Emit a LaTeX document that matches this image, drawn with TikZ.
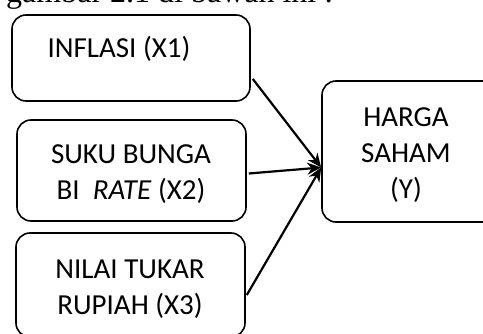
\documentclass[tikz,border=0pt]{standalone}
\usepackage{fontspec}
\setmainfont{Carlito}
\newfontfamily\seriffont{Liberation Serif}
\usetikzlibrary{arrows.meta}
\tikzset{
  box/.style={draw, line width=1.6pt, rounded corners=14pt, inner sep=0pt},
  lbl/.style={font=\fontsize{29}{36}\selectfont, align=center, inner sep=0pt},
  conn/.style={line width=2.2pt, -{Stealth[length=14pt,width=12pt]}}
}
\begin{document}
\begin{tikzpicture}[x=1pt,y=-1pt]
\useasboundingbox (0,0) rectangle (483,334);
\clip (0,0) rectangle (483,334);
\node[anchor=base west, inner sep=0pt, font=\seriffont\fontsize{32}{38}\selectfont] (head) at (6,3) {gambar 2.1 di bawah ini :};
\node[box, minimum width=238pt, minimum height=86pt] (b1) at (131,58) {};
\node[box, minimum width=229pt, minimum height=101pt] (b2) at (131.5,170.5) {};
\node[box, minimum width=229pt, minimum height=104pt] (b3) at (130.5,285) {};
\node[box, minimum width=180pt, minimum height=141pt] (y) at (412,151.5) {};
\node[lbl, anchor=base] (t1) at (119,58) {INFLASI (X1)};
\node[lbl, anchor=base] (t2) at (131,200) {SUKU BUNGA\\BI \ \textit{RATE} (X2)};
\node[lbl, anchor=base] (t3) at (130,315) {NILAI TUKAR\\RUPIAH (X3)};
\node[lbl, anchor=base] (ty) at (406,199) {HARGA\\SAHAM\\(Y)};
\coordinate (s1) at ([shift={(2,21)}]b1.east);
\coordinate (s2) at ([shift={(2,3)}]b2.east);
\coordinate (s3) at ([shift={(1,10)}]b3.east);
\coordinate (e) at ([shift={(0,16)}]y.west);
\draw[conn] (s1) -- (e);
\draw[conn] (s2) -- (e);
\draw[conn] (s3) -- (e);
\end{tikzpicture}
\end{document}
